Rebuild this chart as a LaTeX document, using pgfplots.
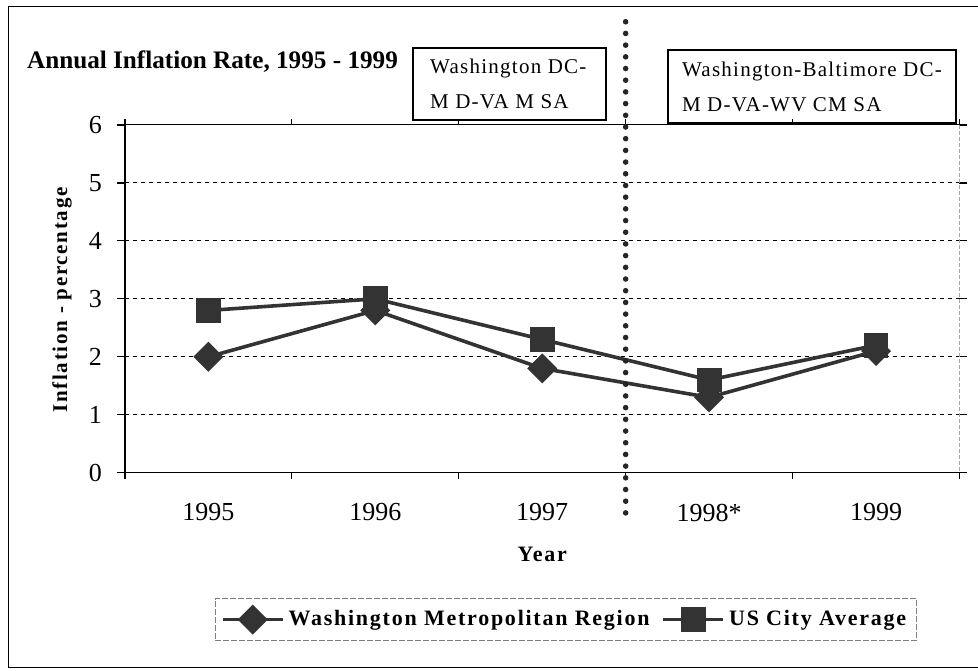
\documentclass[border=0pt]{standalone}
\usepackage{pgfplots}
\pgfplotsset{compat=1.18}
\usepackage{fontspec}
\setmainfont{Liberation Serif}
\definecolor{ser}{HTML}{333333}
\newfontfamily\spaced[LetterSpace=8]{Liberation Serif}
\newfontfamily\spacedA[LetterSpace=6]{Liberation Serif}
\newfontfamily\spacedB[LetterSpace=6]{Liberation Serif}
\begin{document}
\begin{tikzpicture}
\begin{axis}[
  scale only axis, width=417.5pt, height=174pt,
  xmin=-0.5, xmax=4.5, ymin=0, ymax=6,
  xtick={0,1,2,3,4}, xticklabels={1995,1996,1997,1998*,1999},
  minor xtick={-0.5,0.5,1.5,2.5,3.5,4.5},
  major x tick style={draw=none},
  minor x tick style={black, line width=0.6pt},
  minor tick length=3pt,
  ytick={0,1,2,3,4,5,6},
  major tick length=4pt,
  tick align=outside,
  y tick style={black, line width=0.6pt},
  ymajorgrids, major grid style={black, line width=0.5pt, dash pattern=on 2pt off 2pt},
  axis line style={draw=none},
  tick label style={font=\fontsize{13}{15}\selectfont},
  /pgf/number format/assume math mode=true,
  xticklabel style={yshift=-8pt},
  yticklabel style={xshift=-4pt},
  clip=false,
  legend style={at={(rel axis cs:0.528,-0.4224)}, anchor=center, draw=gray, dash pattern=on 3pt off 1pt, line width=0.4pt,
    legend columns=2, font=\fontsize{11}{13}\selectfont\bfseries\spaced, inner xsep=3pt, inner ysep=4pt,
    /tikz/every even column/.append style={column sep=4pt}},
  legend image code/.code={\draw[#1, mark repeat=2, mark phase=2] plot coordinates {(0pt,0pt) (15pt,0pt) (30pt,0pt)};},
]
% frame and borders
\draw[black, line width=0.5pt] (rel axis cs:1.0216,1.3391) -- (rel axis cs:-0.1401,1.3391) -- (rel axis cs:-0.1401,-0.5603) -- (rel axis cs:1.0216,-0.5603);
\path (rel axis cs:-0.1497,1.3592) rectangle (rel axis cs:1.0216,-0.5690);
\draw[black, line width=0.7pt] (rel axis cs:0,1) -- (rel axis cs:0,0) -- (rel axis cs:1,0);
\draw[black, line width=0.5pt] (rel axis cs:0,1) -- (rel axis cs:1,1);
\draw[gray!70, line width=0.5pt, dash pattern=on 2pt off 1pt] (rel axis cs:1,1) -- (rel axis cs:1,0);

\addplot[ser, line width=1.8pt, mark=square*, mark size=4.4pt, mark options={rotate=45, solid, fill=ser}]
  coordinates {(0,2.0) (1,2.8) (2,1.8) (3,1.3) (4,2.1)};
\addlegendentry{Washington Metropolitan Region}
\addplot[ser, line width=1.8pt, mark=square*, mark size=5.3pt, mark options={solid, fill=ser}]
  coordinates {(0,2.8) (1,3.0) (2,2.3) (3,1.6) (4,2.2)};
\addlegendentry{US City Average}

% separator
\draw[black!85, line width=2.8pt, line cap=round, dash pattern=on 0pt off 5.85pt] (axis cs:2.5,7.78) -- (axis cs:2.5,-0.72);

% texts
\node[anchor=west, font=\fontsize{12.6}{14}\selectfont\bfseries] at (rel axis cs:-0.1257,1.181) {Annual Inflation Rate, 1995 - 1999};
\node[draw=black, line width=1pt, minimum width=96.5pt, minimum height=36pt, inner sep=0pt] at (rel axis cs:0.4605,1.1178) {};
\node[anchor=west, align=left, inner xsep=0pt, font=\fontsize{10.5}{17.5}\selectfont\spacedA] at (rel axis cs:0.3653,1.1178) {Washington DC-\\M D-VA M SA};
\node[draw=black, line width=1pt, minimum width=144pt, minimum height=36.5pt, inner sep=0pt] at (rel axis cs:0.8228,1.1106) {};
\node[anchor=west, align=left, inner xsep=0pt, font=\fontsize{10.5}{17.5}\selectfont\spacedB] at (rel axis cs:0.6671,1.1106) {Washington-Baltimore DC-\\M D-VA-WV CM SA};
\node[font=\fontsize{11}{13}\selectfont\bfseries\spaced] at (rel axis cs:0.5,-0.236) {Year};
\node[rotate=90, font=\fontsize{10.5}{12}\selectfont\bfseries\spaced] at (rel axis cs:-0.0754,0.497) {Inflation - percentage};
\end{axis}
\end{tikzpicture}
\end{document}
